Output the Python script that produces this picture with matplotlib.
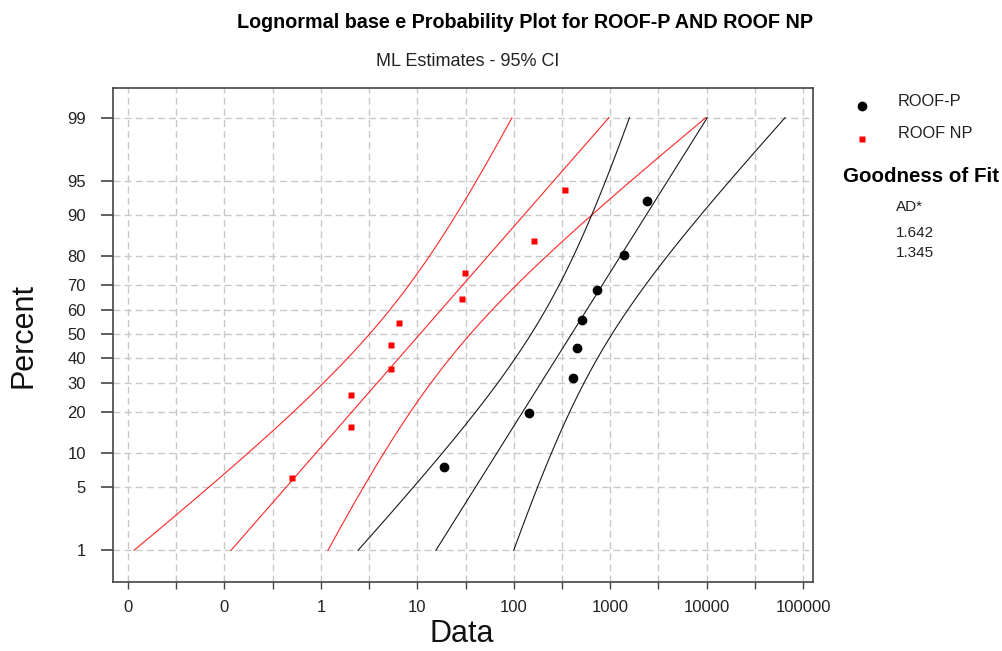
import math
from statistics import NormalDist

import numpy as np
import matplotlib
matplotlib.use('Agg')
import matplotlib.pyplot as plt
from matplotlib.lines import Line2D
from matplotlib.ticker import FixedLocator, FixedFormatter, NullFormatter

# data
roof_p = [18.9, 145, 408, 456, 510, 725, 1390, 2390]
roof_np = [0.5, 2.04, 2.04, 5.3, 5.3, 6.4, 29.3, 31, 162, 340]
pct_ticks = [1, 5, 10, 20, 30, 40, 50, 60, 70, 80, 90, 95, 99]
x_ticks = [0.01, 0.1, 1, 10, 100, 1000, 10000, 100000]
x_tick_labels = ['0', '0', '1', '10', '100', '1000', '10000', '100000']
x_minor = [0.0316, 0.316, 3.16, 31.6, 316, 3162, 31623]
series_names = ['ROOF-P', 'ROOF NP']
ad_values = ['1.642', '1.345']

plt.rcParams['font.family'] = ['Liberation Sans', 'DejaVu Sans']

W, H = 1003, 651
nd = NormalDist()


def fx(px):
    return px / W


def fy(py):
    return 1 - py / H


def fit_lines(data, zz):
    # ML lognormal fit + 95% CI on percentiles
    logs = np.log(np.array(data, dtype=float))
    n = len(logs)
    mu = logs.mean()
    sigma = math.sqrt(((logs - mu) ** 2).mean())
    mid = mu + zz * sigma
    se = sigma * np.sqrt(1.0 / n + zz ** 2 / (2.0 * n))
    return np.exp(mid - 1.96 * se), np.exp(mid), np.exp(mid + 1.96 * se)


def plot_pos(data):
    # Blom plotting positions
    n = len(data)
    xs = sorted(data)
    zs = [nd.inv_cdf((i - 0.375) / (n + 0.25)) for i in range(1, n + 1)]
    return xs, zs


fig = plt.figure(figsize=(W / 100, H / 100), dpi=100)
ax = fig.add_axes([fx(113), fy(582), (813 - 113) / W, (582 - 88) / H])

zz = np.linspace(nd.inv_cdf(0.01), nd.inv_cdf(0.99), 200)

for data, col in [(roof_np, '#ff0000'), (roof_p, 'black')]:
    lo, mid, hi = fit_lines(data, zz)
    for line in (lo, mid, hi):
        ax.plot(line, zz, color=col, lw=0.8, alpha=0.85 if col != 'black' else 0.9)

xs, zs = plot_pos(roof_p)
ax.plot(xs, zs, 'o', color='black', ms=6, zorder=5)
xs, zs = plot_pos(roof_np)
ax.plot(xs, zs, 's', color='#ff0000', ms=4.2, mec='none', zorder=5)

ax.set_xscale('log')
ax.set_xlim(0.00698, 126800)
ax.set_ylim(-2.667, 2.645)

ax.xaxis.set_major_locator(FixedLocator(x_ticks))
ax.xaxis.set_major_formatter(FixedFormatter(x_tick_labels))
ax.xaxis.set_minor_locator(FixedLocator(x_minor))
ax.xaxis.set_minor_formatter(NullFormatter())

y_pos = [nd.inv_cdf(p / 100) for p in pct_ticks]
ax.yaxis.set_major_locator(FixedLocator(y_pos))
ax.yaxis.set_major_formatter(FixedFormatter([str(p) for p in pct_ticks]))

ax.grid(True, which='both', color='#c8c8c8', ls=(0, (5, 3)), lw=1.0)
ax.set_axisbelow(True)

for s in ax.spines.values():
    s.set_color('#444444')
    s.set_linewidth(1.2)

ax.tick_params(axis='x', which='both', length=5, width=1, color='#444444',
               labelsize=12, labelcolor='#222222', pad=8)
ax.tick_params(axis='y', length=8.5, width=1.2, color='#444444',
               labelsize=12, labelcolor='#222222', pad=11)

fig.text(fx(525), fy(22), 'Lognormal base e Probability Plot for ROOF-P AND ROOF NP',
         ha='center', va='center', fontsize=14.2, fontweight='bold')
fig.text(fx(468), fy(62), 'ML Estimates - 95% CI', ha='center', va='center',
         fontsize=13, color='#222222')
fig.text(fx(24), fy(336), 'Percent', ha='center', va='center', rotation=90,
         fontsize=22, color='#111111')
fig.text(fx(462), fy(634), 'Data', ha='center', va='center', fontsize=22,
         color='#111111')

# legend drawn by hand
fig.add_artist(Line2D([fx(862)], [fy(106)], marker='o', color='black', ms=6,
                      transform=fig.transFigure))
fig.add_artist(Line2D([fx(862)], [fy(139)], marker='s', color='#ff0000', ms=4.2,
                      mec='none', transform=fig.transFigure))
fig.text(fx(898), fy(101), series_names[0], ha='left', va='center', fontsize=11.8,
         color='#222222')
fig.text(fx(898), fy(134), series_names[1], ha='left', va='center', fontsize=11.8,
         color='#222222')
fig.text(fx(843), fy(176), 'Goodness of Fit', ha='left', va='center', fontsize=14.8,
         fontweight='bold')
fig.text(fx(896), fy(207), 'AD*', ha='left', va='center', fontsize=11, color='#222222')
fig.text(fx(896), fy(233), ad_values[0], ha='left', va='center', fontsize=11,
         color='#222222')
fig.text(fx(896), fy(253), ad_values[1], ha='left', va='center', fontsize=11,
         color='#222222')

fig.savefig('out.png', dpi=100)
